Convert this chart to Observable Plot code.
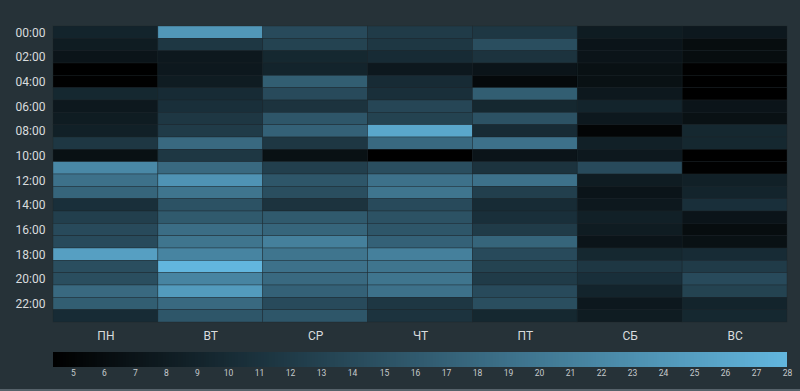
<!DOCTYPE html>
<html><head><meta charset="utf-8">
<script src="https://cdn.jsdelivr.net/npm/d3@7"></script>
<script src="https://cdn.jsdelivr.net/npm/@observablehq/plot@0.6"></script>
<style>
html,body{margin:0;padding:0;background:#263238;width:800px;height:391px;overflow:hidden;font-family:Roboto,sans-serif;}
#wrap{position:relative;width:800px;height:391px;box-sizing:border-box;border-bottom:2px solid #56626a;}
#legend line{display:none;}
</style></head><body><div id="wrap"><div id="chart"></div><div id="legend"></div></div>
<script>
const days = ["ПН","ВТ","СР","ЧТ","ПТ","СБ","ВС"];
const hours = ["00:00","01:00","02:00","03:00","04:00","05:00","06:00","07:00","08:00","09:00","10:00","11:00",
               "12:00","13:00","14:00","15:00","16:00","17:00","18:00","19:00","20:00","21:00","22:00","23:00"];
const hourTicks = ["00:00","02:00","04:00","06:00","08:00","10:00","12:00","14:00","16:00","18:00","20:00","22:00"];
const legendTicks = [5,6,7,8,9,10,11,12,13,14,15,16,17,18,19,20,21,22,23,24,25,26,27,28];

const mon = [9, 8, 7, 4.35, 4.5, 9.5, 7.5, 8, 8.5, 11.5, 6.5, 22, 19, 17.5, 10.5, 12.5, 14, 14, 25, 14.5, 14.5, 18, 16.5, 10];
const tue = [24, 11.5, 7.5, 7.5, 8, 10, 10.5, 11.5, 12, 18, 11.5, 18, 23.5, 19.5, 15, 16, 18.5, 19.5, 21.5, 28, 21.5, 24.5, 18, 15.5];
const wed = [14, 13, 9.5, 9, 16.5, 14, 11, 15.5, 17, 11.5, 6.5, 12.5, 15.5, 14.5, 11, 16, 17.5, 21, 19.5, 19, 18, 17, 14, 15.5];
const thu = [12, 11.5, 10, 7.5, 10, 10.5, 13.5, 13, 26, 18, 4.4, 14.5, 19, 19.5, 14, 15, 15.5, 17, 21, 19.5, 19.5, 19, 11.5, 11];
const fri = [11.5, 14.5, 11, 7, 5.5, 16.5, 9.5, 15, 10, 19, 7, 11, 19, 12.5, 10, 10.5, 12, 17.5, 14, 13, 12, 14, 14.5, 9.5];
const sat = [8, 7, 7, 6.5, 6.5, 7.5, 9, 7.5, 5, 8.5, 7.5, 14, 8, 7, 7.5, 8.5, 8, 7, 9.5, 11.5, 10.5, 9, 7.5, 8];
const sun = [7.5, 6, 6, 4.5, 4.4, 4.4, 7, 6.5, 9.5, 9.5, 4.4, 4.5, 8.5, 9, 10.5, 7, 6, 6.5, 10, 12, 14, 13, 9, 9.5];
const series = [mon, tue, wed, thu, fri, sat, sun];

const data = [];
series.forEach((vals, i) => vals.forEach((v, j) => data.push({day: days[i], hour: hours[j], value: v})));

const colorScale = {type: "linear", domain: d3.extent(data, d => d.value), range: ["#000000", "#62b6de"], interpolate: "rgb"};

const chart = Plot.plot({
  width: 800, height: 345,
  marginTop: 26, marginBottom: 23, marginLeft: 53, marginRight: 13,
  style: {background: "transparent", color: "#d9dcde", fontSize: "12px", fontFamily: "Roboto, sans-serif"},
  x: {domain: days, label: null, tickSize: 0, tickPadding: 9, padding: 0, round: false},
  y: {domain: hours, label: null, tickSize: 0, tickPadding: 8, padding: 0, round: false, ticks: hourTicks},
  color: colorScale,
  marks: [
    Plot.cell(data, {x: "day", y: "hour", fill: "value", stroke: "#1c262b", strokeWidth: 0.6, strokeOpacity: 0.6})
  ]
});
document.getElementById("chart").appendChild(chart);

const legend = Plot.legend({
  color: {...colorScale, label: null},
  width: 800, height: 32, marginTop: 7, marginBottom: 10, marginLeft: 53, marginRight: 13,
  tickSize: 0, ticks: legendTicks,
  style: "background:transparent;color:#c5cacd;font-size:8.5px;font-family:Roboto,sans-serif;"
});
document.getElementById("legend").appendChild(legend);
</script>
</body></html>
